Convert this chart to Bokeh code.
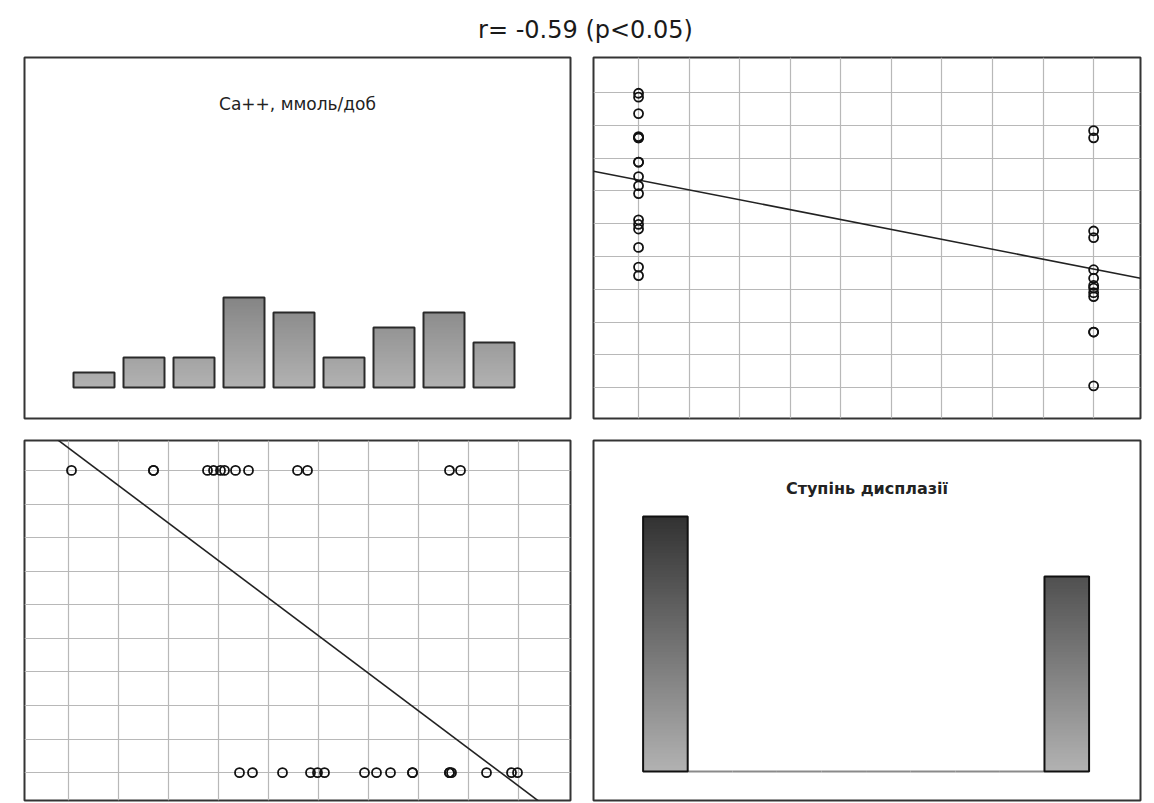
import numpy as np
from bokeh.plotting import figure
from bokeh.layouts import column, row
from bokeh.models import Range1d, FixedTicker
from bokeh.core.properties import value
from bokeh.embed import file_html
from bokeh.resources import INLINE

# ---------------- data ----------------
title_text = "r= -0.59 (p<0.05)"
ca_label = "Ca++, ммоль/доб"
dys_label = "Ступінь дисплазії"

dys_levels = [1, 2]
# Ca++ (mmol/day) of patients with dysplasia grade 1
ca_grade1 = [2.71, 2.84, 3.14, 3.42, 3.49, 3.56, 3.96, 4.08, 4.22, 4.44,
             4.44, 4.81, 4.81, 4.83, 5.18, 5.43, 5.49]
# Ca++ (mmol/day) of patients with dysplasia grade 2
ca_grade2 = [1.03, 1.85, 1.85, 2.39, 2.45, 2.52, 2.56, 2.67, 2.80, 3.29,
             3.39, 4.81, 4.92]

ca_bin_edges = [1.0, 1.5, 2.0, 2.5, 3.0, 3.5, 4.0, 4.5, 5.0, 5.5]
ca_counts = [1, 2, 2, 6, 5, 2, 4, 5, 3]
dys_counts = [17, 13]

# ---------------- derived ----------------
ca = np.array(ca_grade1 + ca_grade2)
dys = np.array([dys_levels[0]] * len(ca_grade1) + [dys_levels[1]] * len(ca_grade2), dtype=float)
dys_ticks = list(np.linspace(dys_levels[0], dys_levels[1], 10))

FONT = "DejaVu Sans"
OUTLINE = "#343434"
GRID = "#b8b8b8"


def panel(frame_w, frame_h, bl, br, bt, bb, xr, yr):
    p = figure(width=bl + frame_w + br, height=bt + frame_h + bb,
               x_range=Range1d(*xr), y_range=Range1d(*yr),
               x_axis_location=None, y_axis_location=None,
               toolbar_location=None, output_backend="svg", title=None,
               min_border_left=bl, min_border_right=br,
               min_border_top=bt, min_border_bottom=bb)
    p.outline_line_color = OUTLINE
    p.outline_line_width = 2
    p.background_fill_color = "white"
    p.border_fill_color = "white"
    return p


def shade(yv, ytop):
    lvl = int(round(178 - 166 * max(0.0, yv) / ytop))
    lvl = max(0, min(255, lvl))
    return "#%02x%02x%02x" % (lvl, lvl, lvl)


def gradient_bars(p, lefts, rights, tops, ytop, line_color, line_width):
    L, R, B, T, C = [], [], [], [], []
    step = 0.2
    for l, r, t in zip(lefts, rights, tops):
        k = 0
        while k * step < t:
            y0 = k * step
            y1 = min((k + 1) * step, t)
            # each slice reaches the bar top; later slices cover the upper part
            L.append(l); R.append(r); B.append(y0); T.append(t)
            C.append(shade((y0 + y1) / 2, ytop))
            k += 1
    p.quad(left=L, right=R, bottom=B, top=T, fill_color=C, line_color=None)
    p.quad(left=lefts, right=rights, bottom=[0] * len(tops), top=tops,
           fill_color=None, line_color=line_color, line_width=line_width)


# ---------------- title ----------------
tfig = figure(width=1146, height=53, title=title_text, toolbar_location=None,
              x_axis_location=None, y_axis_location=None, output_backend="svg",
              min_border_left=24, min_border_right=0, min_border_top=44, min_border_bottom=0)
tfig.outline_line_color = None
tfig.grid.visible = False
tfig.title.align = "center"
tfig.title.text_font = FONT
tfig.title.text_font_size = "24px"
tfig.title.text_font_style = "normal"
tfig.title.text_color = "#1a1a1a"
tfig.title.standoff = 2

# ---------------- top-left: Ca histogram ----------------
tl_x = (0.56, 6.02)
tl_y = (-2.067, 22.0)
tl = panel(546, 361, 24, 11, 4, 11, tl_x, tl_y)
tl.grid.visible = False
bw = ca_bin_edges[1] - ca_bin_edges[0]
lefts = [e + 0.10 * bw for e in ca_bin_edges[:-1]]
rights = [e + 0.92 * bw for e in ca_bin_edges[:-1]]
gradient_bars(tl, lefts, rights, ca_counts, tl_y[1], "#2a2a2a", 2)
tl.text(x=[(tl_x[0] + tl_x[1]) / 2], y=[18.9], text=[ca_label],
        text_align="center", text_baseline="middle",
        text_font=value(FONT), text_font_size=value("17px"), text_color="#222222")

# ---------------- top-right: Ca vs dysplasia ----------------
tr_x = (0.901, 2.103)
tr_y = (0.532, 6.035)
tr = panel(547, 361, 12, 6, 4, 11, tr_x, tr_y)
for g in tr.grid:
    g.grid_line_color = GRID
    g.grid_line_width = 1.2
tr.xgrid.ticker = FixedTicker(ticks=dys_ticks)
tr.ygrid.ticker = FixedTicker(ticks=ca_bin_edges)
b1, a1 = np.polyfit(dys, ca, 1)
tr.line(x=list(tr_x), y=[a1 + b1 * tr_x[0], a1 + b1 * tr_x[1]], line_color="#222222", line_width=1.6)
tr.scatter(x=dys, y=ca, marker="circle", size=9, fill_color=None,
           line_color="#111111", line_width=1.8)

# ---------------- bottom-left: dysplasia vs Ca ----------------
bl_x = tl_x
bl_y = (0.908, 2.099)
bl = panel(546, 360, 24, 11, 11, 2, bl_x, bl_y)
for g in bl.grid:
    g.grid_line_color = GRID
    g.grid_line_width = 1.2
bl.xgrid.ticker = FixedTicker(ticks=ca_bin_edges)
bl.ygrid.ticker = FixedTicker(ticks=dys_ticks)
b2, a2 = np.polyfit(ca, dys, 1)
bl.line(x=list(bl_x), y=[a2 + b2 * bl_x[0], a2 + b2 * bl_x[1]], line_color="#222222", line_width=1.6)
bl.scatter(x=ca, y=dys, marker="circle", size=9, fill_color=None,
           line_color="#111111", line_width=1.8)

# ---------------- bottom-right: dysplasia histogram ----------------
br_x = tr_x
br_y = (-1.933, 22.07)
br = panel(547, 360, 12, 6, 11, 2, br_x, br_y)
br.grid.visible = False
edges = np.linspace(dys_levels[0] + 0.01, dys_levels[1] - 0.01, 11)
counts10 = [dys_counts[0]] + [0] * 8 + [dys_counts[1]]
bar_l = [edges[i] for i in range(10) if counts10[i] > 0]
bar_r = [edges[i + 1] for i in range(10) if counts10[i] > 0]
bar_t = [c for c in counts10 if c > 0]
zero_l = [edges[i] for i in range(10) if counts10[i] == 0]
zero_r = [edges[i + 1] for i in range(10) if counts10[i] == 0]
br.segment(x0=zero_l, x1=zero_r, y0=[0] * len(zero_l), y1=[0] * len(zero_l),
           line_color="#8a8a8a", line_width=2)
gradient_bars(br, bar_l, bar_r, bar_t, br_y[1], "#111111", 2)
br.text(x=[(br_x[0] + br_x[1]) / 2], y=[18.9], text=[dys_label],
        text_align="center", text_baseline="middle",
        text_font=value(FONT), text_font_size=value("16px"), text_font_style="bold",
        text_color="#222222")

layout = column(tfig, row(tl, tr), row(bl, br))
open("out.html", "w").write(file_html(layout, INLINE))
